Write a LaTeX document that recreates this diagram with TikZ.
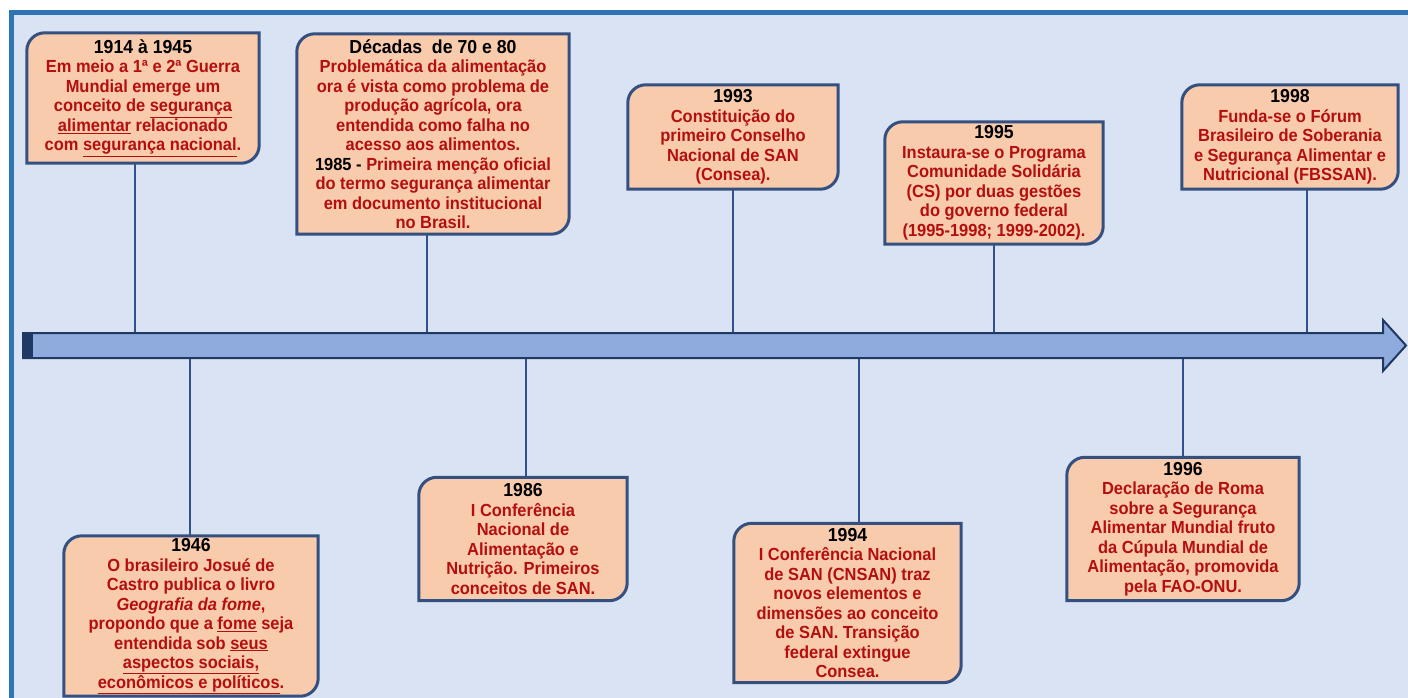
\documentclass[tikz,border=0pt]{standalone}
\usepackage{fontspec}
\setmainfont{Liberation Sans}[FakeStretch=0.94]
\definecolor{bgblue}{HTML}{DAE3F3}
\definecolor{frameblue}{HTML}{2E75B6}
\definecolor{peach}{HTML}{F8CBAD}
\definecolor{boxedge}{RGB}{52,80,128}
\definecolor{connblue}{RGB}{47,82,143}
\definecolor{arrowfill}{HTML}{8FAADC}
\definecolor{arrowedge}{HTML}{1F3864}
\definecolor{txtred}{RGB}{180,14,14}
\newcommand\hdr[1]{{\fontsize{18.8}{19.5}\selectfont\color{black}#1}}
\newcommand\blk[1]{{\color{black}#1}}
\pgfdeclarelayer{back}
\pgfdeclarelayer{mid}
\pgfsetlayers{back,mid,main}
\newcommand\diagbox[1]{%
  \draw[boxline] ([yshift=-18pt]#1.north west) arc[start angle=180,end angle=90,radius=18pt]
    -- (#1.north east) -- ([yshift=18pt]#1.south east) arc[start angle=0,end angle=-90,radius=18pt]
    -- (#1.south west) -- cycle;}
\begin{document}
\begin{tikzpicture}[x=1pt,y=-1pt,
  box/.style={inner sep=0pt, align=center, text=txtred, font=\bfseries\fontsize{17.5}{19.5}\selectfont},
  boxline/.style={draw=boxedge, line width=3pt, fill=peach},
  conn/.style={draw=connblue, line width=2pt},
  arrowbody/.style={fill=arrowfill, draw=arrowedge, line width=2pt, line join=miter}]
\useasboundingbox (0,0) rectangle (1408,698);

% text boxes
\node[box, minimum width=232, minimum height=130] (b1) at (143,98) {\hdr{1914 à 1945}\\Em meio a 1ª e 2ª Guerra\\Mundial emerge um\\conceito de \underline{segurança}\\\underline{alimentar} relacionado\\com \underline{segurança nacional}.};
\node[box, minimum width=272, minimum height=200] (b2) at (433,134) {\hdr{Décadas\ \ de 70 e 80}\\Problemática da alimentação\\ora é vista como problema de\\produção agrícola, ora\\entendida como falha no\\acesso aos alimentos.\\\blk{1985 -} Primeira menção oficial\\do termo segurança alimentar\\em documento institucional\\no Brasil.};
\node[box, minimum width=210, minimum height=104] (b3) at (733,137) {\hdr{1993}\\Constituição do\\primeiro Conselho\\Nacional de SAN\\(Consea).};
\node[box, minimum width=218, minimum height=122] (b4) at (994,183) {\hdr{1995}\\Instaura-se o Programa\\Comunidade Solidária\\(CS) por duas gestões\\do governo federal\\(1995-1998; 1999-2002).};
\node[box, minimum width=216, minimum height=104] (b5) at (1290,137) {\hdr{1998}\\Funda-se o Fórum\\Brasileiro de Soberania\\e Segurança Alimentar e\\Nutricional (FBSSAN).};
\node[box, minimum width=254, minimum height=160] (b6) at (191,616) {\hdr{1946}\\O brasileiro Josué de\\Castro publica o livro\\\textit{Geografia da fome},\\propondo que a \underline{fome} seja\\entendida sob \underline{seus}\\\underline{aspectos sociais,}\\\underline{econômicos e políticos}.};
\node[box, minimum width=208, minimum height=123] (b7) at (523,539) {\hdr{1986}\\I Conferência\\Nacional de\\Alimentação e\\Nutrição. Primeiros\\conceitos de SAN.};
\node[box, minimum width=227, minimum height=159] (b8) at (847.5,603) {\hdr{1994}\\I Conferência Nacional\\de SAN (CNSAN) traz\\novos elementos e\\dimensões ao conceito\\de SAN. Transição\\federal extingue\\Consea.};
\node[box, minimum width=232, minimum height=143] (b9) at (1183,529) {\hdr{1996}\\Declaração de Roma\\sobre a Segurança\\Alimentar Mundial fruto\\da Cúpula Mundial de\\Alimentação, promovida\\pela FAO-ONU.};

% attachment points on the timeline
\coordinate (a1) at (135,333);
\coordinate (a2) at (427,333);
\coordinate (a3) at (733,333);
\coordinate (a4) at (994,333);
\coordinate (a5) at (1307,333);
\coordinate (c6) at (190,358);
\coordinate (c7) at (526,358);
\coordinate (c8) at (859,358);
\coordinate (c9) at (1183,358);

\begin{pgfonlayer}{back}
  \fill[white] (0,0) rectangle (1408,698);
  \fill[bgblue] (11.5,12.5) rectangle (1408,698);
  \draw[frameblue, line width=5pt] (11.5,698) -- (11.5,12.5) -- (1408,12.5);
  % connectors
  \draw[conn] (b1.south -| a1) -- (a1);
  \draw[conn] (b2.south -| a2) -- (a2);
  \draw[conn] (b3.south -| a3) -- (a3);
  \draw[conn] (b4.south -| a4) -- (a4);
  \draw[conn] (b5.south -| a5) -- (a5);
  \draw[conn] (c6) -- (b6.north -| c6);
  \draw[conn] (c7) -- (b7.north -| c7);
  \draw[conn] (c8) -- (b8.north -| c8);
  \draw[conn] (c9) -- (b9.north -| c9);
  % timeline arrow
  \draw[arrowbody] (23,333) -- (1383,333) -- (1383,320) -- (1406,345.5) -- (1383,371) -- (1383,358) -- (23,358) -- cycle;
  \fill[arrowedge] (23,333) rectangle (33,358);
\end{pgfonlayer}

\begin{pgfonlayer}{mid}
  \diagbox{b1}\diagbox{b2}\diagbox{b3}\diagbox{b4}\diagbox{b5}
  \diagbox{b6}\diagbox{b7}\diagbox{b8}\diagbox{b9}
\end{pgfonlayer}
\end{tikzpicture}
\end{document}
